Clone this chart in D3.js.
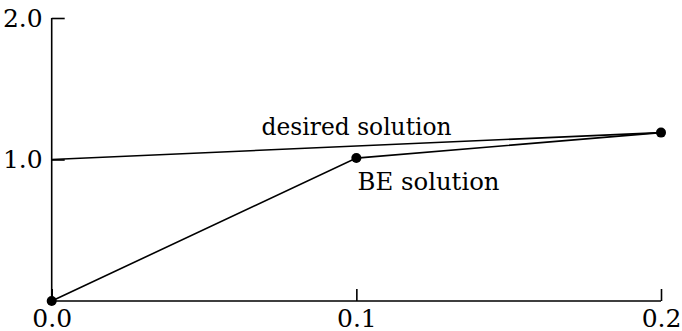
<!DOCTYPE html>
<html><head><meta charset="utf-8">
<script src="https://cdn.jsdelivr.net/npm/d3@7"></script>
<style>body{margin:0;background:#fff}svg{display:block}</style>
</head><body>
<script>
const xTicks = [0.0, 0.1, 0.2];
const yTicks = [1.0, 2.0];
const beT = [0.0, 0.1, 0.2];
const beY = [0.0, 1.01, 1.19];
const desiredT = [0.0, 0.2];
const desiredY = [1.0, 1.19];
const labels = ["desired solution", "BE solution"];

const W = 682, H = 331;
const svg = d3.select("body").append("svg").attr("width", W).attr("height", H);
const x = d3.scaleLinear().domain([0, 0.2]).range([51.7, 661]);
const y = d3.scaleLinear().domain([0, 2.0]).range([301, 18]);
const font = "DejaVu Serif, Liberation Serif, serif";

// axes
svg.append("path").attr("d", `M${x(0)},${y(2)}V${y(0)}H${x(0.2)}`)
  .attr("fill", "none").attr("stroke", "#000").attr("stroke-width", 1.6);
const xa = d3.axisBottom(x).tickValues(xTicks).tickSizeInner(-12).tickSizeOuter(0).tickPadding(8).tickFormat(d3.format(".1f"));
const gx = svg.append("g").attr("transform", `translate(0,${y(0)})`).call(xa);
gx.select(".domain").remove();
gx.selectAll("line").attr("stroke-width", 1.6);
gx.selectAll("text").attr("font-family", font).attr("font-size", 25).attr("fill", "#000").attr("dy", "0.72em");
const ya = d3.axisLeft(y).tickValues(yTicks).tickSizeInner(-13).tickSizeOuter(0).tickPadding(9).tickFormat(d3.format(".1f"));
const gy = svg.append("g").attr("transform", `translate(${x(0)},0)`).call(ya);
gy.select(".domain").remove();
gy.selectAll("line").attr("stroke-width", 1.6);
gy.selectAll("text").attr("font-family", font).attr("font-size", 25).attr("fill", "#000");

// lines
const line = d3.line().x(d => x(d[0])).y(d => y(d[1]));
svg.append("path").datum(desiredT.map((t, i) => [t, desiredY[i]]))
  .attr("d", line).attr("fill", "none").attr("stroke", "#000").attr("stroke-width", 1.6);
svg.append("path").datum(beT.map((t, i) => [t, beY[i]]))
  .attr("d", line).attr("fill", "none").attr("stroke", "#000").attr("stroke-width", 1.6);
svg.selectAll("circle.pt").data(beT.map((t, i) => [t, beY[i]])).join("circle")
  .attr("cx", d => x(d[0])).attr("cy", d => y(d[1])).attr("r", 5).attr("fill", "#000");

// labels
svg.append("text").text(labels[0]).attr("x", x(0.0689)).attr("y", 135)
  .attr("font-family", font).attr("font-size", 25).attr("textLength", 190).attr("lengthAdjust", "spacingAndGlyphs");
svg.append("text").text(labels[1]).attr("x", x(0.1004)).attr("y", 190)
  .attr("font-family", font).attr("font-size", 25).attr("textLength", 142).attr("lengthAdjust", "spacingAndGlyphs");
</script>
</body></html>
